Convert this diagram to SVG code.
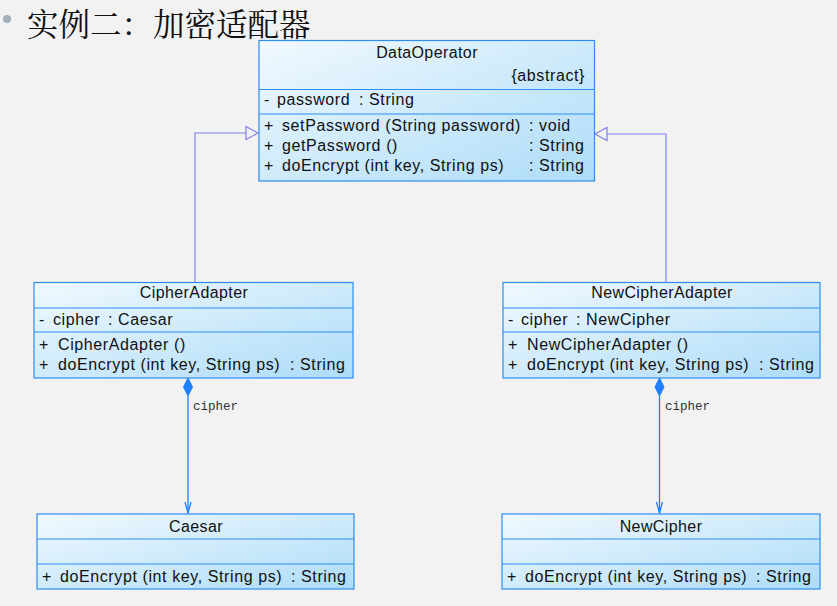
<svg xmlns="http://www.w3.org/2000/svg" width="837" height="606" viewBox="0 0 837 606">
<style>
.box{fill:url(#g);stroke:#2e8ef0;stroke-width:1.2}
.sep{stroke:#2e8ef0;stroke-width:1.2}
.t{font-family:"Liberation Sans",Arial,sans-serif;font-size:16px;fill:#111;letter-spacing:0.6px}
.c{text-anchor:middle;letter-spacing:0.4px}
.gen{fill:none;stroke:#8080f0;stroke-width:1.2}
.genh{fill:#f2f2f2;stroke:#8080f0;stroke-width:1.2}
.comp{fill:none;stroke:#1f7fff;stroke-width:1.3}
.dia{fill:#1f7fff;stroke:#1f7fff;stroke-width:1}
.lbl{font-family:"Liberation Mono","DejaVu Sans Mono",monospace;font-size:12.5px;fill:#333}
</style>
<defs>
<linearGradient id="g" x1="0" y1="0" x2="1" y2="1">
<stop offset="0" stop-color="#f1f9fe"/>
<stop offset="1" stop-color="#addcf8"/>
</linearGradient>
</defs>
<rect width="837" height="606" fill="#f2f2f2"/>
<g id="title">
<circle cx="7" cy="19" r="4" fill="#9fb0bc"/>
<text x="27" y="36" font-family="'Noto Serif CJK SC','Noto Sans CJK SC',serif" font-size="31.5" fill="#111">实例二：加密适配器</text>
</g>
<g id="connectors">
<polyline class="gen" points="195,282 195,133 246,133"/>
<polygon class="genh" points="258,133 246,126.5 246,139.5"/>
<polyline class="gen" points="666,282 666,134 607,134"/>
<polygon class="genh" points="595,134 607,127.5 607,140.5"/>
<line class="comp" x1="188" y1="396" x2="188" y2="513"/>
<polygon class="dia" points="188,378 192.5,387 188,396 183.5,387"/>
<polyline class="comp" points="185,502 188,513 191,502"/>
<text class="lbl" x="193" y="410">cipher</text>
<line class="comp" x1="659.5" y1="396" x2="659.5" y2="513"/>
<polygon class="dia" points="659.5,378 664,387 659.5,396 655,387"/>
<polyline class="comp" points="656.5,502 659.5,513 662.5,502"/>
<text class="lbl" x="665" y="410">cipher</text>
</g>
<g id="DataOperator">
<rect class="box" x="259" y="40.5" width="335.5" height="140.5"/>
<line class="sep" x1="259" y1="89.5" x2="594.5" y2="89.5"/>
<line class="sep" x1="259" y1="114" x2="594.5" y2="114"/>
<text class="t c" x="427" y="58">DataOperator</text>
<text class="t" x="585" y="81" text-anchor="end">{abstract}</text>
<text class="t" x="264" y="105">-</text><text class="t" x="277" y="105">password</text><text class="t" x="359" y="105">: String</text>
<text class="t" x="264" y="131">+</text><text class="t" x="282" y="131">setPassword (String password)</text><text class="t" x="529" y="131">: void</text>
<text class="t" x="264" y="151">+</text><text class="t" x="282" y="151">getPassword ()</text><text class="t" x="529" y="151">: String</text>
<text class="t" x="264" y="171">+</text><text class="t" x="282" y="171">doEncrypt (int key, String ps)</text><text class="t" x="529" y="171">: String</text>
</g>
<g id="CipherAdapter">
<rect class="box" x="34" y="282.5" width="319" height="95.5"/>
<line class="sep" x1="34" y1="308" x2="353" y2="308"/>
<line class="sep" x1="34" y1="332" x2="353" y2="332"/>
<text class="t c" x="194" y="298">CipherAdapter</text>
<text class="t" x="39" y="325">-</text><text class="t" x="53" y="325">cipher</text><text class="t" x="108" y="325">: Caesar</text>
<text class="t" x="39" y="350">+</text><text class="t" x="58" y="350">CipherAdapter ()</text>
<text class="t" x="39" y="370">+</text><text class="t" x="58" y="370">doEncrypt (int key, String ps)</text><text class="t" x="290" y="370">: String</text>
</g>
<g id="NewCipherAdapter">
<rect class="box" x="503" y="282.5" width="317" height="95.5"/>
<line class="sep" x1="503" y1="308" x2="820" y2="308"/>
<line class="sep" x1="503" y1="332" x2="820" y2="332"/>
<text class="t c" x="662" y="298">NewCipherAdapter</text>
<text class="t" x="508" y="325">-</text><text class="t" x="521" y="325">cipher</text><text class="t" x="576" y="325">: NewCipher</text>
<text class="t" x="508" y="350">+</text><text class="t" x="527" y="350">NewCipherAdapter ()</text>
<text class="t" x="508" y="370">+</text><text class="t" x="527" y="370">doEncrypt (int key, String ps)</text><text class="t" x="759" y="370">: String</text>
</g>
<g id="Caesar">
<rect class="box" x="37" y="514" width="317" height="75"/>
<line class="sep" x1="37" y1="539" x2="354" y2="539"/>
<line class="sep" x1="37" y1="564" x2="354" y2="564"/>
<text class="t c" x="196" y="532">Caesar</text>
<text class="t" x="42" y="582">+</text><text class="t" x="60" y="582">doEncrypt (int key, String ps)</text><text class="t" x="291" y="582">: String</text>
</g>
<g id="NewCipher">
<rect class="box" x="502" y="514" width="318" height="75"/>
<line class="sep" x1="502" y1="539" x2="820" y2="539"/>
<line class="sep" x1="502" y1="564" x2="820" y2="564"/>
<text class="t c" x="661" y="532">NewCipher</text>
<text class="t" x="507" y="582">+</text><text class="t" x="525" y="582">doEncrypt (int key, String ps)</text><text class="t" x="756" y="582">: String</text>
</g>
</svg>
